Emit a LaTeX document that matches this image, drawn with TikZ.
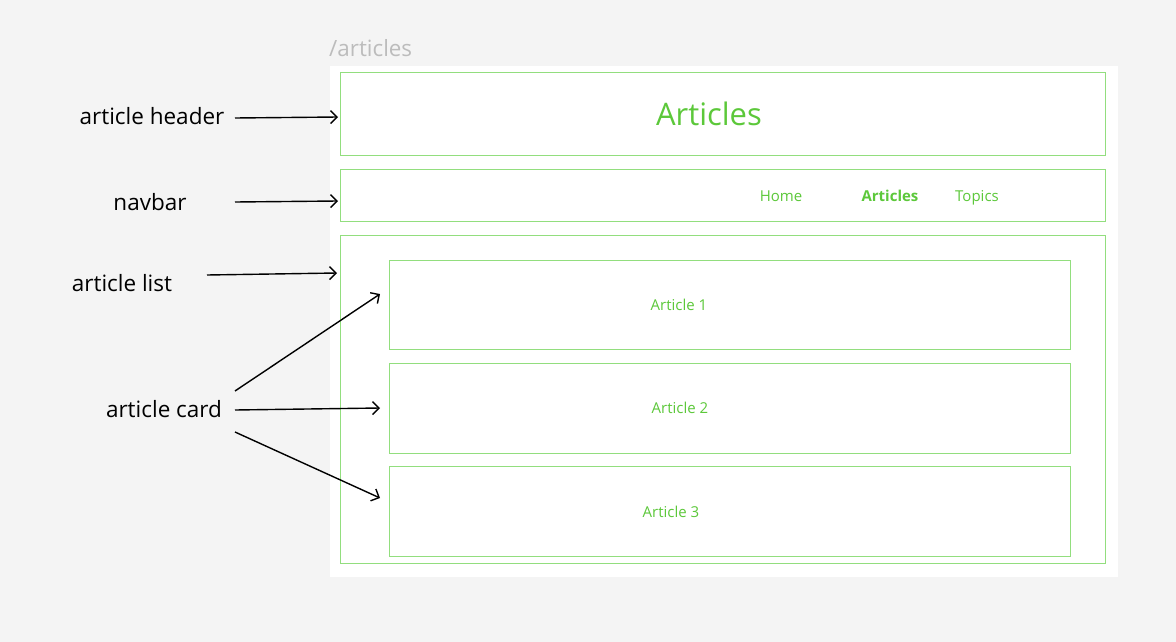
\documentclass[tikz,border=0pt]{standalone}
\usepackage{fontspec}
\setmainfont{Open Sans}
\usetikzlibrary{arrows.meta}
\definecolor{bg}{RGB}{244,244,244}
\definecolor{boxgreen}{RGB}{146,222,126}
\definecolor{txtgreen}{RGB}{92,200,58}
\definecolor{pathgrey}{RGB}{188,188,188}
\tikzset{
  wire/.style={draw=boxgreen, line width=1pt, fill=white, inner sep=0pt, anchor=north west},
  lbl/.style={font=\fontsize{22.5}{26}\selectfont, text=black, inner sep=0pt},
  gtxt/.style={text=txtgreen, inner sep=0pt},
  small/.style={font=\fontsize{15}{17}\selectfont},
  smallbold/.style={font=\fontsize{15}{17}\selectfont\bfseries},
  pointer/.style={draw=black, line width=1.4pt, -{Straight Barb[length=6.5pt,width=13pt,line width=1.4pt]}}
}
\begin{document}
\begin{tikzpicture}[x=1pt,y=-1pt]
\fill[bg] (0,0) rectangle (1176,642);
\useasboundingbox (0,0) rectangle (1176,642);
% page frame
\fill[white] (330,66) rectangle (1118,577);
\node[anchor=base west, inner sep=0pt, text=pathgrey, font=\fontsize{22.4}{26}\selectfont] (path) at (329,57) {/articles};
% boxes
\node[wire, minimum width=765pt, minimum height=83pt] (hdr) at (340,72) {};
\node[wire, minimum width=765pt, minimum height=52pt] (nav) at (340,169) {};
\node[wire, minimum width=765pt, minimum height=328pt] (list) at (340,235) {};
\node[wire, minimum width=681pt, minimum height=89pt] (c1) at (389,260) {};
\node[wire, minimum width=681pt, minimum height=90pt] (c2) at (389,363) {};
\node[wire, minimum width=681pt, minimum height=90pt] (c3) at (389,466) {};
% texts inside
\node[gtxt, font=\fontsize{31}{35}\selectfont] (title) at (709,114) {Articles};
\node[gtxt, small, anchor=base] (home) at (781,201) {Home};
\node[gtxt, smallbold, anchor=base] (navart) at (890,201) {Articles};
\node[gtxt, small, anchor=base] (topics) at (977,201) {Topics};
\node[gtxt, small] (a1) at (679,305) {Article 1};
\node[gtxt, small] (a2) at (680,408) {Article 2};
\node[gtxt, small] (a3) at (671,512) {Article 3};
% labels
\node[lbl] (lhdr) at (152,116) {article header};
\node[lbl] (lnav) at (150,202) {navbar};
\node[lbl] (llist) at (122,283) {article list};
\node[lbl] (lcard) at (164,409) {article card};
% arrow ends
\coordinate (hdrS) at (235,118);
\coordinate (hdrE) at (338,117);
\coordinate (navS) at (235,202);
\coordinate (navE) at (338,201);
\coordinate (listS) at (207,275);
\coordinate (listE) at (337,273);
\coordinate (cS1) at (235,391);
\coordinate (cE1) at (380,294);
\coordinate (cS2) at (235,410);
\coordinate (cE2) at (380,408);
\coordinate (cS3) at (235,432);
\coordinate (cE3) at (380,498);
\draw[pointer] (hdrS) -- (hdrE);
\draw[pointer] (navS) -- (navE);
\draw[pointer] (listS) -- (listE);
\draw[pointer] (cS1) -- (cE1);
\draw[pointer] (cS2) -- (cE2);
\draw[pointer] (cS3) -- (cE3);
\end{tikzpicture}
\end{document}
